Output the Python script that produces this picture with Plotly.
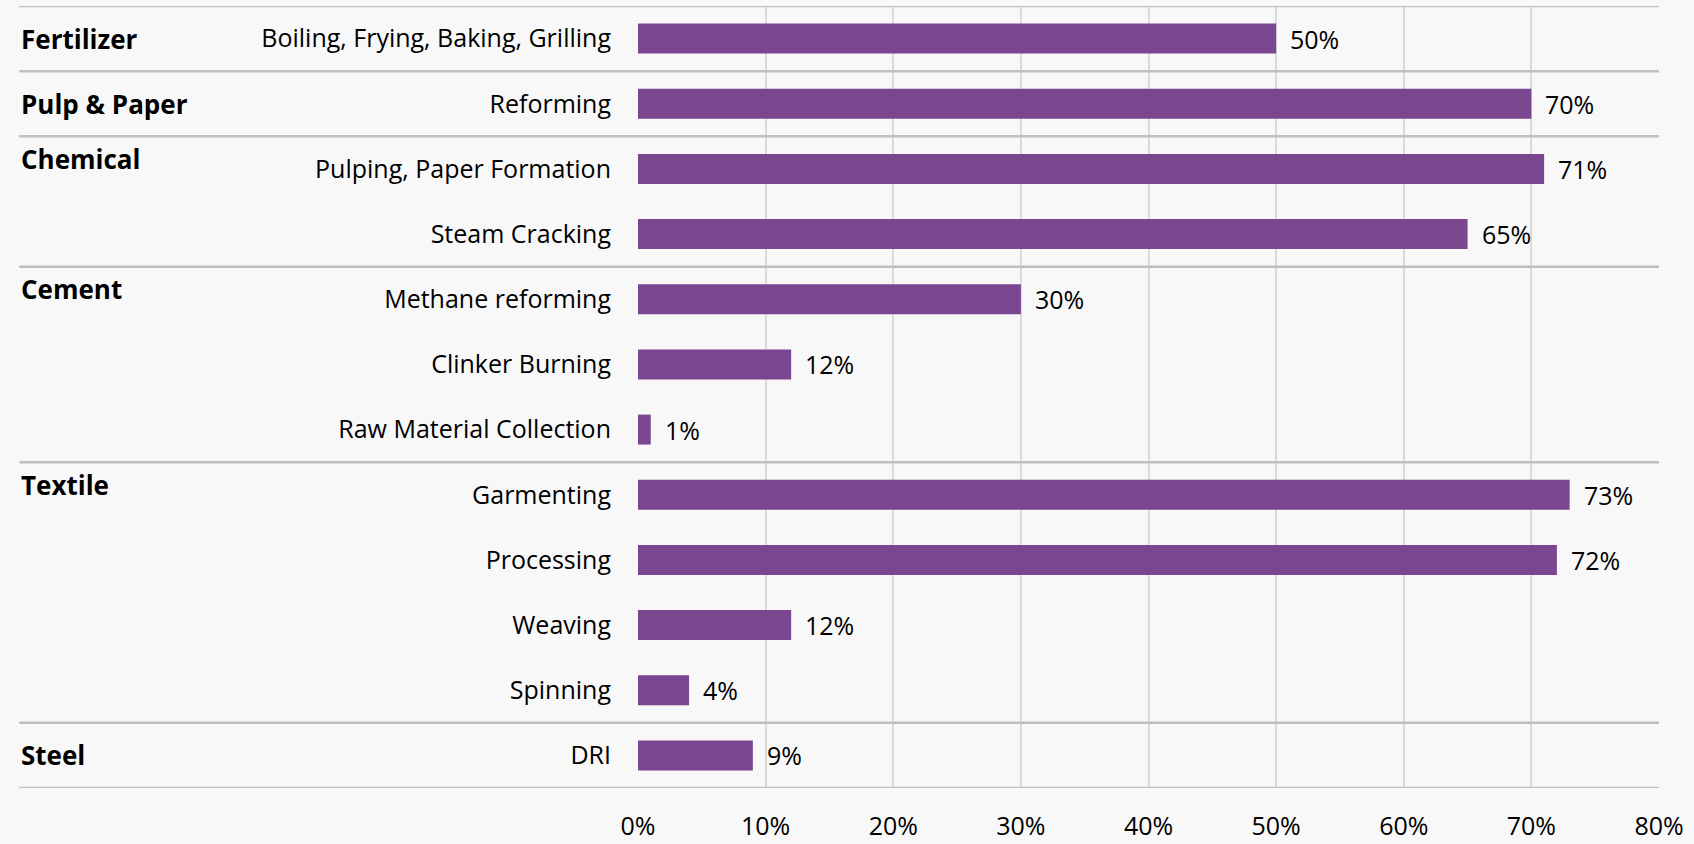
import plotly.graph_objects as go

# Sector groups and the processes inside each, top to bottom
groups = ["Fertilizer", "Pulp & Paper", "Chemical", "Cement", "Textile", "Steel"]
group_sizes = [1, 1, 2, 3, 4, 1]
processes = [
    "Boiling, Frying, Baking, Grilling",
    "Reforming",
    "Pulping, Paper Formation",
    "Steam Cracking",
    "Methane reforming",
    "Clinker Burning",
    "Raw Material Collection",
    "Garmenting",
    "Processing",
    "Weaving",
    "Spinning",
    "DRI",
]
shares = [0.50, 0.70, 0.71, 0.65, 0.30, 0.12, 0.01, 0.73, 0.72, 0.12, 0.04, 0.09]
x_ticks = [0, 0.1, 0.2, 0.3, 0.4, 0.5, 0.6, 0.7, 0.8]

FONT = "Open Sans"
SIZE = 25
BAR = "#7b4690"
SEP = "#bfbfbf"
GRID = "#dadada"
BG = "#f8f8f8"

rows = list(range(len(processes)))

fig = go.Figure(
    go.Bar(
        x=shares,
        y=rows,
        orientation="h",
        marker=dict(color=BAR, line=dict(width=0)),
        width=0.46,
        hoverinfo="x+y",
    )
)

annotations = []

# Value labels just past the end of each bar
for r, v in zip(rows, shares):
    annotations.append(dict(
        text=f"{v:.0%}", xref="x", yref="y", x=v, y=r,
        xanchor="left", yanchor="middle", xshift=12,
        showarrow=False, font=dict(family=FONT, size=SIZE, color="#000000"),
    ))

# Horizontal separators between sector groups
left_edge = -0.606
bounds = [-0.5]
for n in group_sizes:
    bounds.append(bounds[-1] + n)
shapes = []
for b in bounds:
    shapes.append(dict(
        type="line", xref="paper", yref="y",
        x0=left_edge, x1=1.0, y0=b, y1=b,
        line=dict(color=SEP, width=2.5), layer="above",
    ))

# Bold sector names on the far left
start = 0
for g, n in zip(groups, group_sizes):
    y = start if n == 1 else start - 0.15
    annotations.append(dict(
        text=f"<b>{g}</b>", xref="paper", yref="y",
        x=left_edge, y=y, xanchor="left", yanchor="middle",
        showarrow=False, font=dict(family=FONT, size=26, color="#000000"),
    ))
    start += n

fig.update_layout(
    width=1694, height=844,
    margin=dict(l=638, r=35, t=6, b=56),
    paper_bgcolor=BG, plot_bgcolor=BG,
    showlegend=False,
    shapes=shapes,
    annotations=annotations,
    font=dict(family=FONT, size=SIZE, color="#000000"),
)
fig.update_xaxes(
    range=[0, 0.8], tickvals=x_ticks, tickformat=".0%",
    showgrid=True, gridcolor=GRID, gridwidth=1.5,
    zeroline=False, showline=False,
    ticklabelstandoff=21, automargin=False,
    tickfont=dict(family=FONT, size=SIZE, color="#000000"),
)
fig.update_yaxes(
    tickvals=rows, ticktext=processes,
    range=[len(processes) - 0.5, -0.5],
    showgrid=False, zeroline=False, showline=False,
    ticklabelstandoff=26, automargin=False,
    tickfont=dict(family=FONT, size=SIZE, color="#000000"),
)

fig.write_html("out.html")
